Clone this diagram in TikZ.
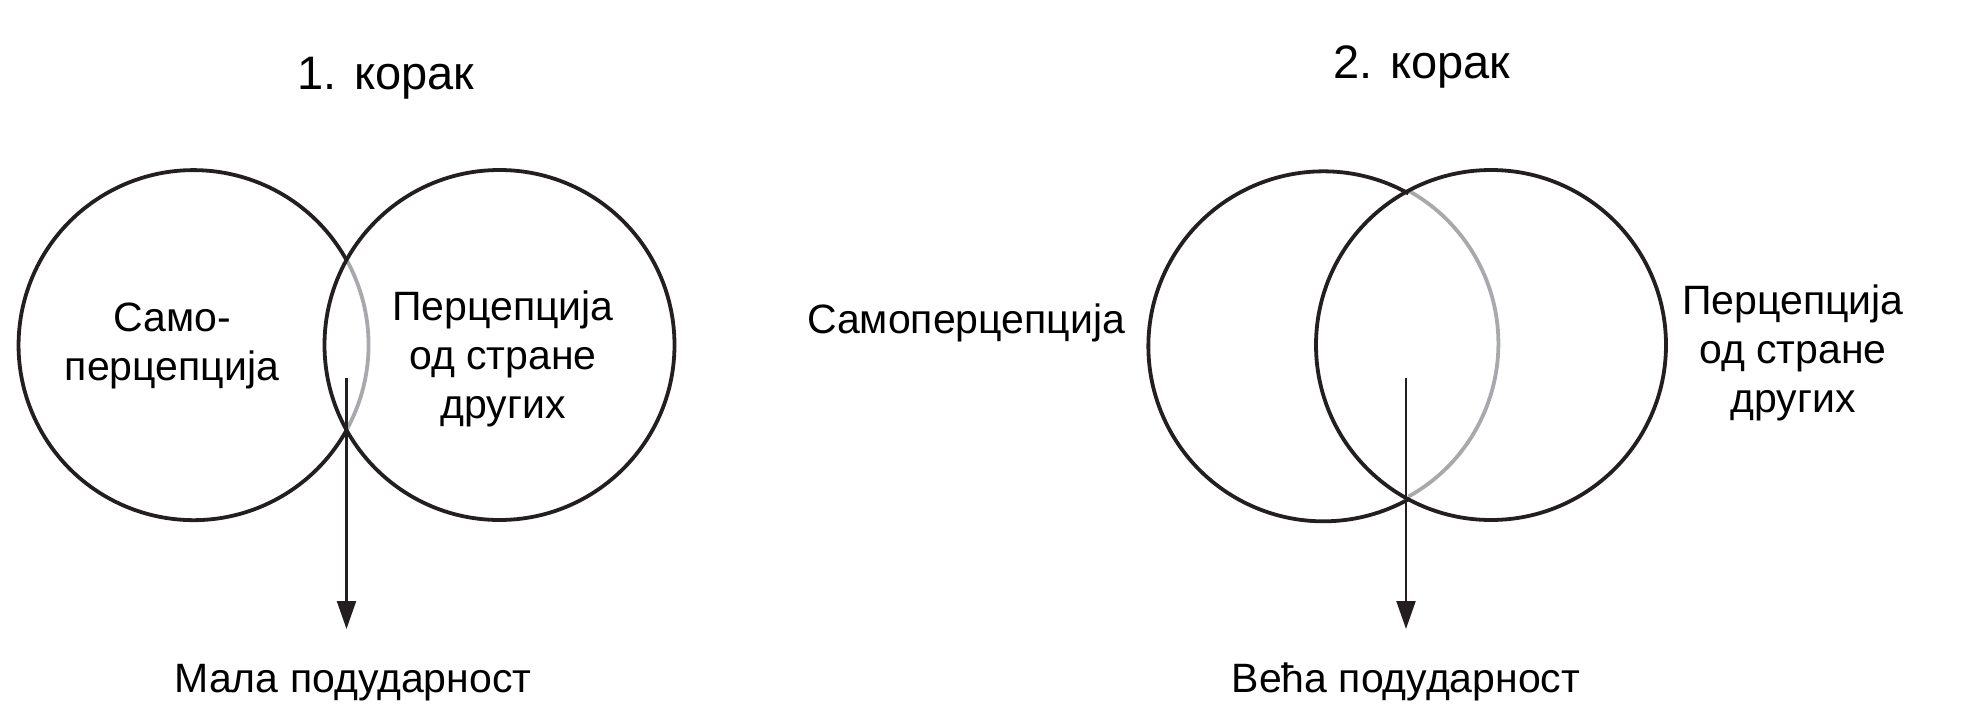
\documentclass[tikz,border=0pt]{standalone}
\usepackage{fontspec}
\setmainfont{Liberation Sans}
\usetikzlibrary{arrows.meta}
\definecolor{ink}{HTML}{231F20}
\definecolor{lensgray}{HTML}{A7A9AC}
\begin{document}
\begin{tikzpicture}[x=1pt,y=-1pt,
  ringnode/.style={circle, inner sep=0pt, outer sep=0pt, minimum size=350pt},
  ringline/.style={draw=ink, line width=3.8pt},
  lensline/.style={draw=lensgray, line width=3.8pt},
  arrowline/.style={draw=ink, line width=2.2pt, -{Triangle[length=28pt,width=19pt]}, fill=ink},
  lbl/.style={inner sep=0pt, text=black, align=center, font=\fontsize{41}{49}\selectfont},
  ttl/.style={inner sep=0pt, text=black, font=\fontsize{47}{56}\selectfont}]
\useasboundingbox (0,0) rectangle (1965,728);
\fill[white] (0,0) rectangle (1965,728);

% ---------- step 1 ----------
\node[ringnode] (L1) at (193.5,345) {};
\node[ringnode] (R1) at (499.5,345) {};
\draw[lensline] (L1.-29.05) arc[start angle=-29.05, end angle=29.05, radius=175pt];
\draw[ringline] (L1.29.05) arc[start angle=29.05, end angle=330.95, radius=175pt];
\draw[ringline] (R1.center) circle[radius=175pt];

\coordinate (a1s) at (346.5,378);
\coordinate (a1e) at (346.5,629);
\draw[arrowline] (a1s) -- (a1e);

\node[ttl, anchor=base] (t1) at (386,89) {1. корак};
\node[lbl, anchor=base] (s1) at (172,380) {Само-\\перцепција};
\node[lbl, anchor=base] (o1) at (503,418) {Перцепција\\од стране\\других};
\node[lbl, anchor=base] (m1) at (353,692) {Мала подударност};

% ---------- step 2 ----------
\node[ringnode] (L2) at (1321,345) {};
\node[ringnode] (R2) at (1491,345) {};
\draw[lensline] (L2.-60.9) arc[start angle=-60.9, end angle=60.9, radius=175pt];
\draw[ringline] (L2.60.9) arc[start angle=60.9, end angle=299.1, radius=175pt];
\draw[ringline] (R2.center) circle[radius=175pt];

\coordinate (a2s) at (1406,378);
\coordinate (a2e) at (1406,629);
\draw[arrowline] (a2s) -- (a2e);

\node[ttl, anchor=base] (t2) at (1422,78) {2. корак};
\node[lbl, anchor=base] (s2) at (966,333) {Самоперцепција};
\node[lbl, anchor=base] (o2) at (1793,412) {Перцепција\\од стране\\других};
\node[lbl, anchor=base] (m2) at (1406,692) {Већа подударност};
\end{tikzpicture}
\end{document}
